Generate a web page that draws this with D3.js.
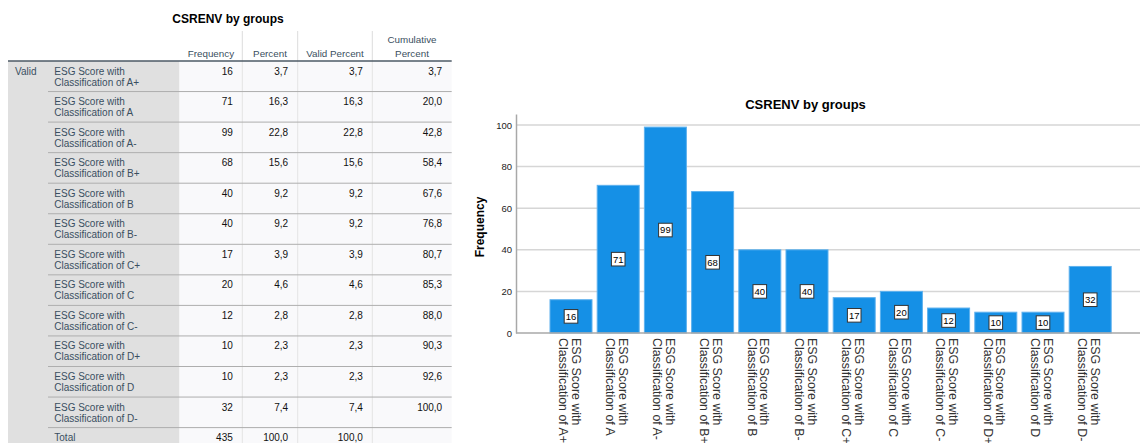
<!DOCTYPE html>
<html>
<head>
<meta charset="utf-8">
<script src="https://cdn.jsdelivr.net/npm/d3@7"></script>
<style>
  html, body { margin: 0; padding: 0; background: #fff; overflow: hidden; }
  svg { display: block; font-family: "Liberation Sans", Arial, sans-serif; }
</style>
</head>
<body>
<svg id="out" width="1140" height="443"></svg>
<script>
// Frequency table for CSRENV grouped by ESG classification
const grades = ["A+", "A", "A-", "B+", "B", "B-", "C+", "C", "C-", "D+", "D", "D-"];
const frequency = [16, 71, 99, 68, 40, 40, 17, 20, 12, 10, 10, 32];
const percent = ["3,7", "16,3", "22,8", "15,6", "9,2", "9,2", "3,9", "4,6", "2,8", "2,3", "2,3", "7,4"];
const validPercent = ["3,7", "16,3", "22,8", "15,6", "9,2", "9,2", "3,9", "4,6", "2,8", "2,3", "2,3", "7,4"];
const cumulativePercent = ["3,7", "20,0", "42,8", "58,4", "67,6", "76,8", "80,7", "85,3", "88,0", "90,3", "92,6", "100,0"];
const totalRow = ["435", "100,0", "100,0", ""];
const columnHeaders = [["Frequency"], ["Percent"], ["Valid Percent"], ["Cumulative", "Percent"]];
const yTicks = [0, 20, 40, 60, 80, 100];
const title = "CSRENV by groups";

const svg = d3.select("#out");

// ---------- Table ----------
const tbl = svg.append("g");
const tableLeft = 8, labelColLeft = 48, labelColRight = 179.5, tableRight = 451.7;
const colEdges = [179.5, 242.3, 297.7, 372.3, 451.7];
const headerBottom = 61;
const rowH = 30.55;
const nRows = grades.length + 1;

tbl.append("text").attr("x", 228).attr("y", 22.5).attr("text-anchor", "middle")
  .attr("font-size", 12).attr("font-weight", "bold").attr("fill", "#000").text(title);

// label area background
tbl.append("rect").attr("x", tableLeft).attr("y", headerBottom)
  .attr("width", labelColRight - tableLeft).attr("height", 443 - headerBottom).attr("fill", "#e0e0e0");
// data area background
tbl.append("rect").attr("x", labelColRight).attr("y", headerBottom)
  .attr("width", tableRight - labelColRight).attr("height", 443 - headerBottom).attr("fill", "#f9f9fb");

// vertical separators in header and body
colEdges.slice(1, 4).forEach(x => {
  tbl.append("line").attr("x1", x).attr("x2", x).attr("y1", 31).attr("y2", headerBottom)
    .attr("stroke", "#dcdcdc").attr("stroke-width", 1);
  tbl.append("line").attr("x1", x).attr("x2", x).attr("y1", headerBottom).attr("y2", 443)
    .attr("stroke", "#e4e4e4").attr("stroke-width", 1);
});

// column headers
columnHeaders.forEach((lines, i) => {
  const cx = (colEdges[i] + colEdges[i + 1]) / 2;
  lines.forEach((t, j) => {
    tbl.append("text").attr("x", cx)
      .attr("y", 56.5 - (lines.length - 1 - j) * 14)
      .attr("text-anchor", "middle").attr("font-size", 9.8).attr("fill", "#3a4f60").text(t);
  });
});

// row separators
for (let i = 1; i < nRows; i++) {
  const y = headerBottom + i * rowH;
  tbl.append("line").attr("x1", labelColLeft).attr("x2", tableRight).attr("y1", y).attr("y2", y)
    .attr("stroke", "#aeaeae").attr("stroke-width", 1);
}
// header rule
tbl.append("line").attr("x1", tableLeft).attr("x2", tableRight).attr("y1", headerBottom).attr("y2", headerBottom)
  .attr("stroke", "#4c5a66").attr("stroke-width", 1.5);

tbl.append("text").attr("x", 15).attr("y", headerBottom + 13.5).attr("font-size", 10)
  .attr("fill", "#3a4f60").text("Valid");

const rows = grades.map((g, i) => ({
  label: ["ESG Score with", "Classification of " + g],
  cells: [String(frequency[i]), percent[i], validPercent[i], cumulativePercent[i]]
}));
rows.push({ label: ["Total"], cells: totalRow });

rows.forEach((r, i) => {
  const top = headerBottom + i * rowH;
  r.label.forEach((t, j) => {
    tbl.append("text").attr("x", 54.3).attr("y", top + 13.5 + j * 11)
      .attr("font-size", 10).attr("fill", "#3a4f60").text(t);
  });
  r.cells.forEach((t, k) => {
    tbl.append("text").attr("x", colEdges[k + 1] - 9.5).attr("y", top + 13.5)
      .attr("text-anchor", "end").attr("font-size", 10).attr("fill", "#111").text(t);
  });
});

// ---------- Bar chart ----------
const categories = grades.map(g => "Classification of " + g);
const x = d3.scaleBand().domain(categories).range([547.4, 1113.8]).paddingInner(0.11).paddingOuter(0.055);
const y = d3.scaleLinear().domain([0, 105.3]).range([333, 114]);

const chart = svg.append("g");

chart.append("text").attr("x", 805.5).attr("y", 108.5).attr("text-anchor", "middle")
  .attr("font-size", 13).attr("font-weight", "bold").attr("fill", "#000").text(title);

// gridlines
chart.append("g").selectAll("line").data(yTicks.filter(d => d > 0)).join("line")
  .attr("x1", 516).attr("x2", 1140).attr("y1", d => y(d)).attr("y2", d => y(d))
  .attr("stroke", "#d6d6d6").attr("stroke-width", 1.5);

// y axis
const yAxis = chart.append("g").attr("transform", "translate(516,0)")
  .call(d3.axisLeft(y).tickValues(yTicks).tickSize(0).tickPadding(4));
yAxis.select(".domain").attr("stroke", "#a8a8a8").attr("stroke-width", 1.5);
yAxis.selectAll("text").attr("font-size", 9.5).attr("fill", "#222")
  .attr("font-family", "\"Liberation Sans\", Arial, sans-serif");

chart.append("text").attr("transform", "translate(484,227) rotate(-90)")
  .attr("text-anchor", "middle").attr("font-size", 12).attr("font-weight", "bold")
  .attr("fill", "#000").text("Frequency");

// bars
chart.append("g").selectAll("rect").data(frequency).join("rect")
  .attr("x", (d, i) => x(categories[i]))
  .attr("y", d => y(d))
  .attr("width", x.bandwidth())
  .attr("height", d => y(0) - y(d))
  .attr("fill", "#1590e6").attr("stroke", "#5eb1ee").attr("stroke-width", 1);

// baseline
chart.append("line").attr("x1", 516).attr("x2", 1140).attr("y1", y(0)).attr("y2", y(0))
  .attr("stroke", "#a8a8a8").attr("stroke-width", 1.5);

// value labels in boxes
const lab = chart.append("g").selectAll("g").data(frequency).join("g")
  .attr("transform", (d, i) => `translate(${x(categories[i]) + x.bandwidth() / 2},${(y(d) + y(0)) / 2})`);
lab.append("rect").attr("x", -6.8).attr("y", -6.8).attr("width", 13.6).attr("height", 13.6)
  .attr("fill", "#fff").attr("stroke", "#333").attr("stroke-width", 1);
lab.append("text").attr("y", 3.4).attr("text-anchor", "middle").attr("font-size", 9.5)
  .attr("fill", "#000").text(d => d);

// category labels, rotated to read downward
const xl = chart.append("g").selectAll("text").data(categories).join("text")
  .attr("transform", d => `translate(${x(d) + x.bandwidth() / 2},338) rotate(90)`)
  .attr("font-size", 12.4).attr("fill", "#333");
xl.append("tspan").attr("x", 0).attr("y", -0.6).text("ESG Score with");
xl.append("tspan").attr("x", 0).attr("y", 12.2).text(d => d);
</script>
</body>
</html>
